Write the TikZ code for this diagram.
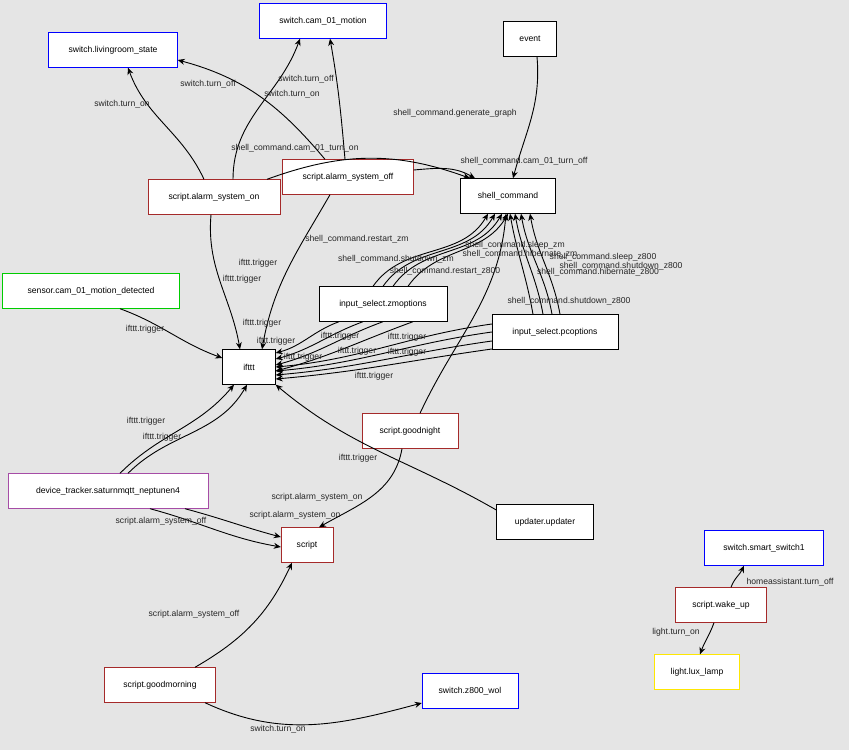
\documentclass[tikz,border=0pt]{standalone}
\usepackage{fontspec}
\setmainfont{Liberation Sans}
\usetikzlibrary{arrows.meta,positioning}
\definecolor{bg}{HTML}{E5E5E5}
\definecolor{redbox}{HTML}{A52A2A}

\begin{document}
\begin{tikzpicture}[
    x=1pt, y=1pt,
    every node/.style={font=\fontsize{8.6}{10}\selectfont},
    box/.style={rectangle, draw, fill=white, minimum height=35pt, inner xsep=6pt},
    sw/.style={box, draw=blue},
    scr/.style={box, draw=redbox},
    edge/.style={-{Stealth[length=7pt,width=6pt]}, line width=0.9pt},
    lbl/.style={inner sep=0pt, text=black!85}
]
\fill[bg] (0,0) rectangle (849,-750);
\useasboundingbox (0,0) rectangle (849,-750);

% Nodes
\node[sw, minimum width=129pt] (liv) at (113,-50) {switch.livingroom\_state};
\node[sw, minimum width=127pt] (cam) at (323,-21) {switch.cam\_01\_motion};
\node[box, minimum width=53pt] (event) at (530,-39) {event};
\node[box, minimum width=95pt] (shell) at (508,-196) {shell\_command};
\node[scr, minimum width=132pt] (on) at (214,-197) {script.alarm\_system\_on};
\node[scr, minimum width=131pt] (off) at (348,-177) {script.alarm\_system\_off};
\node[box, draw=green!80!black, minimum width=177pt] (sensor) at (91,-291) {sensor.cam\_01\_motion\_detected};
\node[box, minimum width=128pt] (zm) at (383,-304) {input\_select.zmoptions};
\node[box, minimum width=126pt] (pc) at (555,-332) {input\_select.pcoptions};
\node[box, minimum width=53pt] (ifttt) at (249,-367) {ifttt};
\node[scr, minimum width=96pt] (night) at (410,-431) {script.goodnight};
\node[box, draw=violet!70, minimum width=200pt] (dev) at (108,-491) {device\_tracker.saturnmqtt\_neptunen4};
\node[box, minimum width=97pt] (upd) at (545,-522) {updater.updater};
\node[scr, minimum width=52pt] (script) at (307,-545) {script};
\node[sw, minimum width=119pt] (smart) at (764,-548) {switch.smart\_switch1};
\node[scr, minimum width=91pt] (wake) at (721,-605) {script.wake\_up};
\node[box, draw=yellow!90!orange, minimum width=85pt] (lamp) at (697,-672) {light.lux\_lamp};
\node[scr, minimum width=111pt] (morning) at (160,-685) {script.goodmorning};
\node[sw, minimum width=96pt] (wol) at (470,-691) {switch.z800\_wol};

% Edges
\draw[edge] ([xshift=-10pt]on.north) to[out=115,in=-70] ([xshift=15pt]liv.south);
\draw[edge] ([xshift=-23pt]off.north) to[out=130,in=-15] ([yshift=-10pt]liv.east);
\draw[edge] ([xshift=19pt]on.north) to[out=90,in=-110] ([xshift=-23pt]cam.south);
\draw[edge] ([xshift=-3pt]off.north) to[out=95,in=-80] ([xshift=7pt]cam.south);
\draw[edge] ([xshift=7pt]event.south) to[out=-85,in=75] ([xshift=5pt]shell.north);
\draw[edge] ([xshift=53pt]on.north) to[out=20,in=160] ([xshift=-38pt]shell.north);
\draw[edge] ([yshift=7pt]off.east) to[out=5,in=150] ([xshift=-33pt]shell.north);
\draw[edge] ([xshift=-3pt]on.south) to[out=-95,in=100] ([xshift=-9pt]ifttt.north);
\draw[edge] ([xshift=-18pt]off.south) to[out=-120,in=80] ([xshift=13pt]ifttt.north);
\draw[edge] ([xshift=29pt]sensor.south) to[out=-20,in=160] ([yshift=9pt]ifttt.west);
\foreach \a/\b in {-10/-20, 0/-13, 10/-6, 25/0}
  \draw[edge] ([xshift=\a pt]zm.north) to[out=55,in=-120] ([xshift=\b pt]shell.south);
\foreach \a/\b in {-22/2, -12/7, -3/13, 5/22}
  \draw[edge] ([xshift=\a pt]pc.north) to[out=100,in=-80] ([xshift=\b pt]shell.south);
\draw[edge] ([xshift=10pt]night.north) to[out=65,in=-95] ([xshift=-2pt]shell.south);
\foreach \a/\b in {-44/14, -20/8, 0/2, 30/-4}
  \draw[edge] ([xshift=\a pt]zm.south) to[out=200,in=15] ([yshift=\b pt]ifttt.east);
\foreach \a/\b in {8/0, 0/-4, -9/-8, -17/-12}
  \draw[edge] ([yshift=\a pt]pc.west) to[out=188,in=5] ([yshift=\b pt]ifttt.east);
\draw[edge] ([xshift=12pt]dev.north) to[out=45,in=-130] ([xshift=-15pt]ifttt.south);
\draw[edge] ([xshift=20pt]dev.north) to[out=45,in=-120] ([xshift=-2pt]ifttt.south);
\draw[edge] ([yshift=12pt]upd.west) to[out=150,in=-40] (ifttt.south east);
\draw[edge] ([xshift=-8pt]night.south) to[out=-100,in=30] ([xshift=12pt]script.north);
\draw[edge] ([xshift=42pt]dev.south) to[out=-15,in=170] ([yshift=-2pt]script.west);
\draw[edge] ([xshift=77pt]dev.south) to[out=-15,in=165] ([yshift=8pt]script.west);
\draw[edge] ([xshift=35pt]morning.north) to[out=30,in=-115] ([xshift=-15pt]script.south);
\draw[edge] ([xshift=45pt]morning.south) to[out=-25,in=-165] ([yshift=-12pt]wol.west);
\draw[edge] ([xshift=10pt]wake.north) to[out=70,in=-115] ([xshift=-20pt]smart.south);
\draw[edge] ([xshift=-7pt]wake.south) to[out=-110,in=70] ([xshift=3pt]lamp.north);

% Labels
\node[lbl] (l1) at (122,-104) {switch.turn\_on};
\node[lbl] (l2) at (208,-84) {switch.turn\_off};
\node[lbl] (l3) at (292,-94) {switch.turn\_on};
\node[lbl] (l4) at (306,-79) {switch.turn\_off};
\node[lbl] (l5) at (455,-113) {shell\_command.generate\_graph};
\node[lbl] (l6) at (295,-148) {shell\_command.cam\_01\_turn\_on};
\node[lbl] (l7) at (524,-161) {shell\_command.cam\_01\_turn\_off};
\node[lbl] (l8) at (242,-279) {ifttt.trigger};
\node[lbl] (l9) at (258,-263) {ifttt.trigger};
\node[lbl] (l10) at (145,-329) {ifttt.trigger};
\node[lbl] (l11) at (357,-239) {shell\_command.restart\_zm};
\node[lbl] (l12) at (396,-259) {shell\_command.shutdown\_zm};
\node[lbl] (l13) at (515,-245) {shell\_command.sleep\_zm};
\node[lbl] (l14) at (520,-254) {shell\_command.hibernate\_zm};
\node[lbl] (l15) at (445,-271) {shell\_command.restart\_z800};
\node[lbl] (l16) at (603,-257) {shell\_command.sleep\_z800};
\node[lbl] (l17) at (598,-272) {shell\_command.hibernate\_z800};
\node[lbl] (l18) at (621,-266) {shell\_command.shutdown\_z800};
\node[lbl] (l19) at (569,-301) {shell\_command.shutdown\_z800};
\node[lbl] (l20) at (262,-323) {ifttt.trigger};
\node[lbl] (l21) at (276,-341) {ifttt.trigger};
\node[lbl] (l22) at (303,-357) {ifttt.trigger};
\node[lbl] (l23) at (340,-336) {ifttt.trigger};
\node[lbl] (l24) at (357,-351) {ifttt.trigger};
\node[lbl] (l25) at (407,-337) {ifttt.trigger};
\node[lbl] (l26) at (407,-352) {ifttt.trigger};
\node[lbl] (l27) at (374,-376) {ifttt.trigger};
\node[lbl] (l28) at (146,-421) {ifttt.trigger};
\node[lbl] (l29) at (162,-437) {ifttt.trigger};
\node[lbl] (l30) at (358,-458) {ifttt.trigger};
\node[lbl] (l31) at (317,-497) {script.alarm\_system\_on};
\node[lbl] (l32) at (295,-515) {script.alarm\_system\_on};
\node[lbl] (l33) at (161,-521) {script.alarm\_system\_off};
\node[lbl] (l34) at (194,-614) {script.alarm\_system\_off};
\node[lbl] (l35) at (278,-729) {switch.turn\_on};
\node[lbl] (l36) at (790,-582) {homeassistant.turn\_off};
\node[lbl] (l37) at (676,-632) {light.turn\_on};
\end{tikzpicture}
\end{document}
